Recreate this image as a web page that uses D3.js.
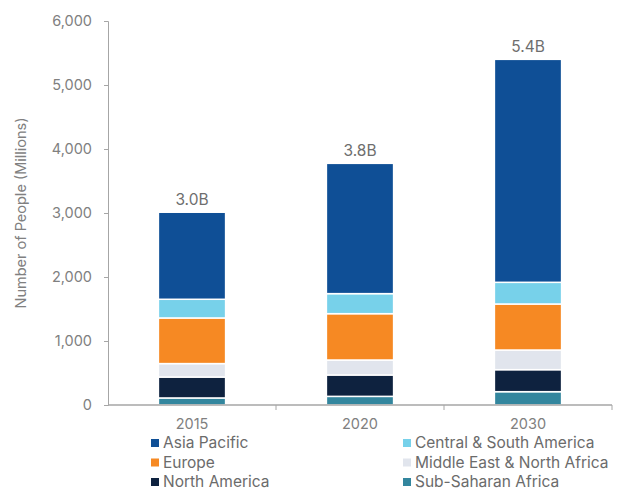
<!DOCTYPE html>
<html>
<head>
<meta charset="utf-8">
<script src="https://cdn.jsdelivr.net/npm/d3@7"></script>
<style>
  html, body { margin: 0; padding: 0; background: #fff; }
  svg text { font-family: "Inter", "Liberation Sans", sans-serif; }
</style>
</head>
<body>
<svg id="chart" width="634" height="491"></svg>
<script>
// Population by region (millions)
const years = ["2015", "2020", "2030"];
const regions = ["Sub-Saharan Africa", "North America", "Middle East & North Africa", "Europe", "Central & South America", "Asia Pacific"];
const subSaharanAfrica = [110, 135, 208];
const northAmerica = [327, 334, 344];
const middleEastNorthAfrica = [210, 234, 307];
const europe = [713, 724, 719];
const centralSouthAmerica = [292, 313, 339];
const asiaPacific = [1360, 2036, 3484];
const totalLabels = ["3.0B", "3.8B", "5.4B"];
const yTicks = [0, 1000, 2000, 3000, 4000, 5000, 6000];
const legendOrder = ["Asia Pacific", "Central & South America", "Europe", "Middle East & North Africa", "North America", "Sub-Saharan Africa"];

const colors = {
  "Asia Pacific": "#0f4f96",
  "Central & South America": "#77d1ea",
  "Europe": "#f68923",
  "Middle East & North Africa": "#e1e5ed",
  "North America": "#0e223f",
  "Sub-Saharan Africa": "#33869e"
};

const seriesValues = {
  "Sub-Saharan Africa": subSaharanAfrica,
  "North America": northAmerica,
  "Middle East & North Africa": middleEastNorthAfrica,
  "Europe": europe,
  "Central & South America": centralSouthAmerica,
  "Asia Pacific": asiaPacific
};

const table = years.map((y, i) => {
  const row = { year: y };
  regions.forEach(r => row[r] = seriesValues[r][i]);
  return row;
});

const svg = d3.select("#chart");
const margin = { left: 108, right: 22, top: 21, bottom: 86 };
const W = 634, H = 491;

const x = d3.scaleBand().domain(years).range([margin.left, W - margin.right]).paddingInner(0.6).paddingOuter(0.3);
const y = d3.scaleLinear().domain([0, 6000]).range([H - margin.bottom, margin.top]);

const stack = d3.stack().keys(regions)(table);

// stacked bars
svg.append("g").selectAll("g").data(stack).join("g")
  .attr("fill", d => colors[d.key])
  .selectAll("rect").data(d => d).join("rect")
  .attr("x", d => x(d.data.year))
  .attr("width", x.bandwidth())
  .attr("y", d => y(d[1]))
  .attr("height", d => y(d[0]) - y(d[1]))
  .attr("stroke", "#fff")
  .attr("stroke-width", 1.5);

// total labels
svg.append("g").selectAll("text").data(table).join("text")
  .attr("x", d => x(d.year) + x.bandwidth() / 2)
  .attr("y", d => y(d3.sum(regions, r => d[r])) - 7)
  .attr("text-anchor", "middle")
  .attr("font-size", 15.5)
  .attr("font-weight", 400)
  .attr("fill", "#6e6e6e")
  .text((d, i) => totalLabels[i]);

// y axis
const yAxis = svg.append("g")
  .attr("transform", `translate(${margin.left},0)`)
  .call(d3.axisLeft(y).tickValues(yTicks).tickFormat(d3.format(",")).tickSize(4).tickPadding(12));
yAxis.select(".domain").attr("stroke", "#a6a6a6");
yAxis.selectAll(".tick line").attr("stroke", "#a6a6a6");
yAxis.selectAll(".tick text").attr("fill", "#808080").attr("font-size", 14.5);

// x axis with ticks at category boundaries
const xAxisG = svg.append("g").attr("transform", `translate(0,${y(0)})`);
xAxisG.append("line")
  .attr("x1", margin.left).attr("x2", W - margin.right)
  .attr("y1", 0).attr("y2", 0)
  .attr("stroke", "#a6a6a6").attr("stroke-width", 1.5);
const stepEdges = [1, 2, 3].map(i => margin.left + (W - margin.right - margin.left) * i / 3);
xAxisG.selectAll("line.edge").data(stepEdges).join("line")
  .attr("class", "edge")
  .attr("x1", d => d).attr("x2", d => d)
  .attr("y1", 0).attr("y2", 5)
  .attr("stroke", "#a6a6a6");
xAxisG.selectAll("text").data(years).join("text")
  .attr("x", d => x(d) + x.bandwidth() / 2)
  .attr("y", 24)
  .attr("text-anchor", "middle")
  .attr("font-size", 14.5)
  .attr("fill", "#808080")
  .text(d => d);

// y axis title
svg.append("text")
  .attr("transform", `translate(26,${(y(0) + y(6000)) / 2}) rotate(-90)`)
  .attr("text-anchor", "middle")
  .attr("font-size", 14.5)
  .attr("fill", "#808080")
  .text("Number of People (Millions)");

// legend
const legend = svg.append("g");
legendOrder.forEach((name, i) => {
  const col = i % 2, row = Math.floor(i / 2);
  const lx = col === 0 ? 151 : 403;
  const ly = 443 + row * 19.5;
  const g = legend.append("g").attr("transform", `translate(${lx},${ly})`);
  g.append("rect").attr("x", 0).attr("y", -4).attr("width", 8).attr("height", 8).attr("fill", colors[name]);
  g.append("text").attr("x", 12).attr("y", 0).attr("dy", "0.35em")
    .attr("font-size", 15.5).attr("fill", "#6b6b6b").text(name);
});
</script>
</body>
</html>
